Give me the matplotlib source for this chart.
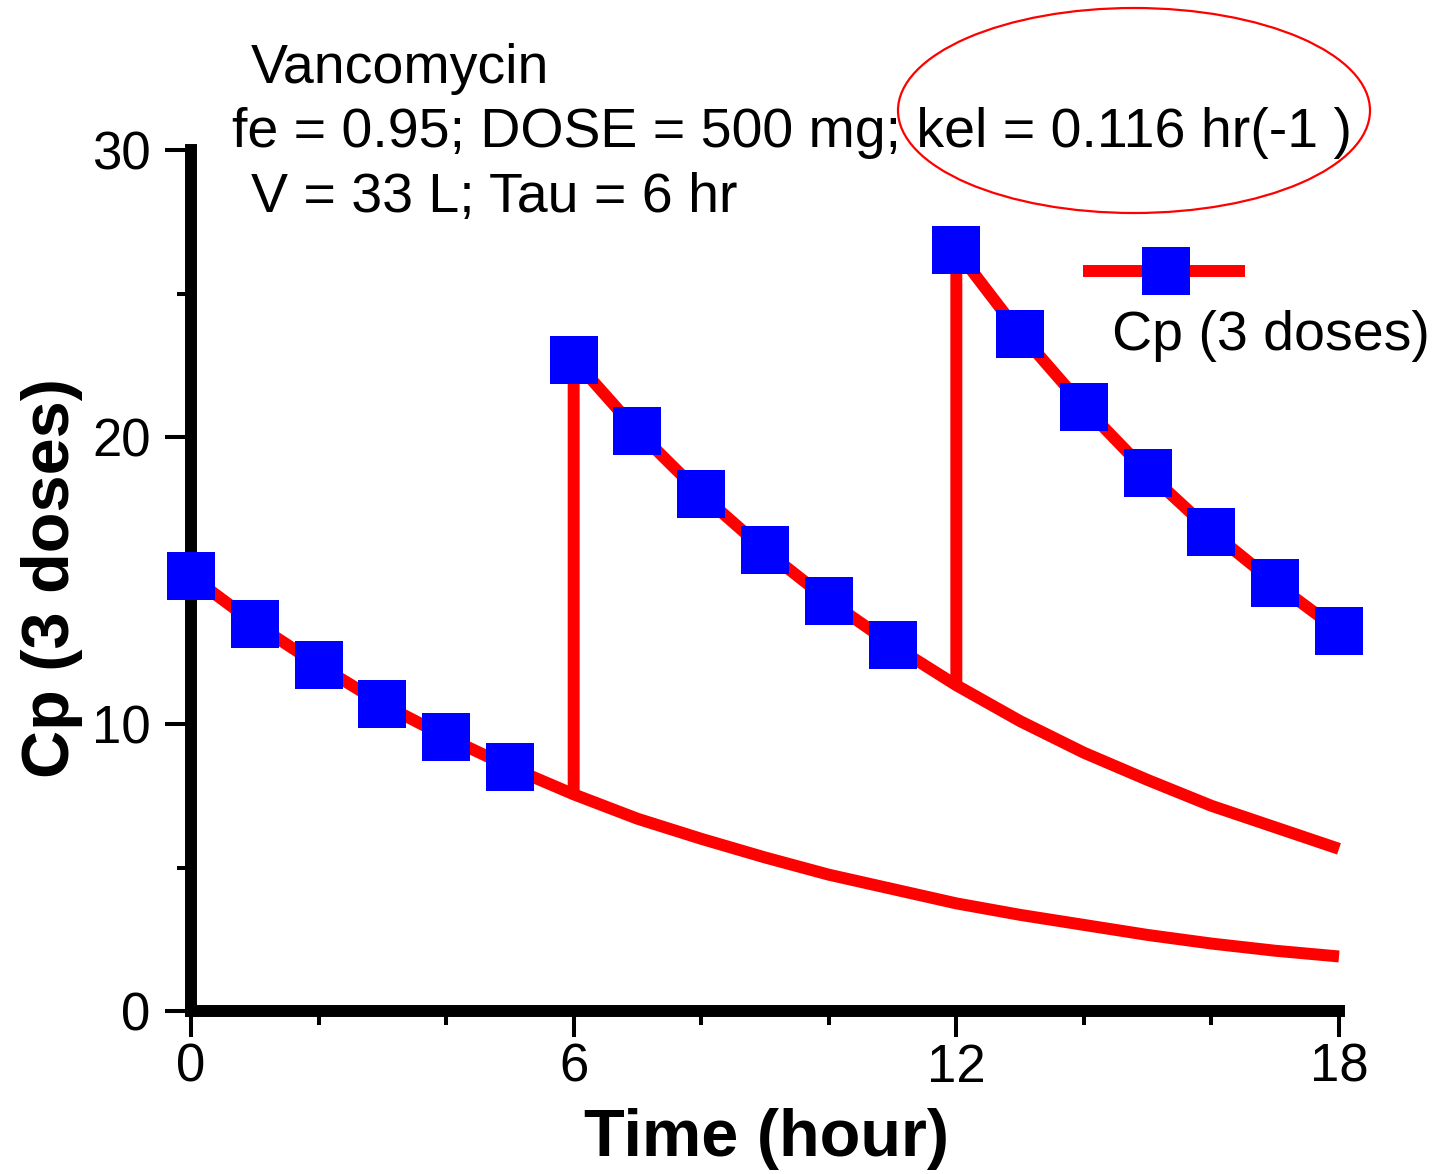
import matplotlib
matplotlib.use("Agg")
import matplotlib.pyplot as plt
from matplotlib.lines import Line2D
from matplotlib.patches import Ellipse

# ---- data ----
hours_1 = [0, 1, 2, 3, 4, 5, 6, 7, 8, 9, 10, 11, 12, 13, 14, 15, 16, 17, 18]
cp_dose1 = [15.15, 13.5, 12.05, 10.7, 9.55, 8.5, 7.55, 6.7, 6.0, 5.35, 4.75,
            4.25, 3.75, 3.35, 3.0, 2.65, 2.35, 2.1, 1.9]

hours_2 = [6, 6, 7, 8, 9, 10, 11, 12, 13, 14, 15, 16, 17, 18]
cp_dose2 = [7.55, 22.7, 20.2, 18.0, 16.05, 14.3, 12.75, 11.35, 10.1, 9.0,
            8.05, 7.15, 6.4, 5.65]

hours_3 = [12, 12, 13, 14, 15, 16, 17, 18]
cp_dose3 = [11.35, 26.5, 23.6, 21.05, 18.75, 16.7, 14.9, 13.25]

marker_hours = list(range(19))
cp_3doses = [15.15, 13.5, 12.05, 10.7, 9.55, 8.5,
             22.7, 20.2, 18.0, 16.05, 14.3, 12.75,
             26.5, 23.6, 21.05, 18.75, 16.7, 14.9, 13.25]

x_ticks = [0, 6, 12, 18]
x_minor = [2, 4, 8, 10, 14, 16]
y_ticks = [0, 10, 20, 30]
y_minor = [5, 15, 25]

legend_label = "Cp (3 doses)"
x_label = "Time (hour)"
y_label = "Cp (3 doses)"
info_lines = ["Vancomycin",
              "fe = 0.95; DOSE = 500 mg; kel = 0.116 hr(-1 )",
              "V = 33 L; Tau = 6 hr"]

# ---- figure ----
W, H = 1435, 1174
plt.rcParams['font.family'] = ['Liberation Sans', 'DejaVu Sans']
fig = plt.figure(figsize=(W / 100, H / 100), dpi=100)

def fx(px):
    return px / W

def fy(py):
    return 1 - py / H

ax = fig.add_axes([fx(191), fy(1011), fx(1339) - fx(191), fy(150) - fy(1011)])

RED = '#ff0000'
BLUE = '#0000ff'
LW = 8.6

ax.plot(hours_1, cp_dose1, color=RED, lw=LW, solid_capstyle='butt',
        solid_joinstyle='miter', zorder=2, clip_on=False)
ax.plot(hours_2, cp_dose2, color=RED, lw=LW, solid_capstyle='butt',
        solid_joinstyle='miter', zorder=2, clip_on=False)
ax.plot(hours_3, cp_dose3, color=RED, lw=LW, solid_capstyle='butt',
        solid_joinstyle='miter', zorder=2, clip_on=False)
ax.plot(marker_hours, cp_3doses, linestyle='none', marker='s', ms=34.5,
        mfc=BLUE, mec=BLUE, mew=0, zorder=3, clip_on=False)

ax.set_xlim(0, 18)
ax.set_ylim(0, 30)
ax.set_xticks(x_ticks)
ax.set_xticks(x_minor, minor=True)
ax.set_yticks(y_ticks)
ax.set_yticks(y_minor, minor=True)
ax.set_xticklabels([str(v) for v in x_ticks])
ax.set_yticklabels([str(v) for v in y_ticks])

for s in ['top', 'right']:
    ax.spines[s].set_visible(False)
for s in ['left', 'bottom']:
    ax.spines[s].set_linewidth(8.6)
    ax.spines[s].set_capstyle('projecting')

ax.tick_params(axis='both', which='major', direction='out', length=18.7,
               width=2.9, labelsize=38, color='black')
ax.tick_params(axis='both', which='minor', direction='out', length=10,
               width=2.9, color='black')
ax.tick_params(axis='y', which='major', pad=10.5)
ax.tick_params(axis='x', which='major', pad=4)
ax.patch.set_alpha(0)

# axis labels
fig.text(fx(767), fy(1139), x_label, ha='center', va='center',
         fontsize=48, fontweight='bold')
fig.text(fx(52), fy(578), y_label, ha='center', va='center', rotation=90,
         fontsize=48, fontweight='bold')

# info text
fig.text(fx(251), fy(83), info_lines[0], ha='left', va='baseline', fontsize=40)
fig.text(fx(232), fy(147), info_lines[1], ha='left', va='baseline', fontsize=40)
fig.text(fx(251), fy(212), info_lines[2], ha='left', va='baseline', fontsize=40)

# red ellipse highlight
ell = Ellipse((fx(1134), fy(110.5)), fx(472), 205 / H, transform=fig.transFigure,
              fill=False, edgecolor=RED, lw=1.6)
fig.add_artist(ell)

# legend
fig.add_artist(Line2D([fx(1083), fx(1245)], [fy(271), fy(271)], color=RED,
                      lw=LW, solid_capstyle='butt', transform=fig.transFigure))
fig.add_artist(Line2D([fx(1166)], [fy(271)], marker='s', ms=34.5, mfc=BLUE,
                      mec=BLUE, mew=0, linestyle='none', transform=fig.transFigure))
fig.text(fx(1112), fy(350), legend_label, ha='left', va='baseline', fontsize=40)

fig.savefig('out.png', dpi=100)
